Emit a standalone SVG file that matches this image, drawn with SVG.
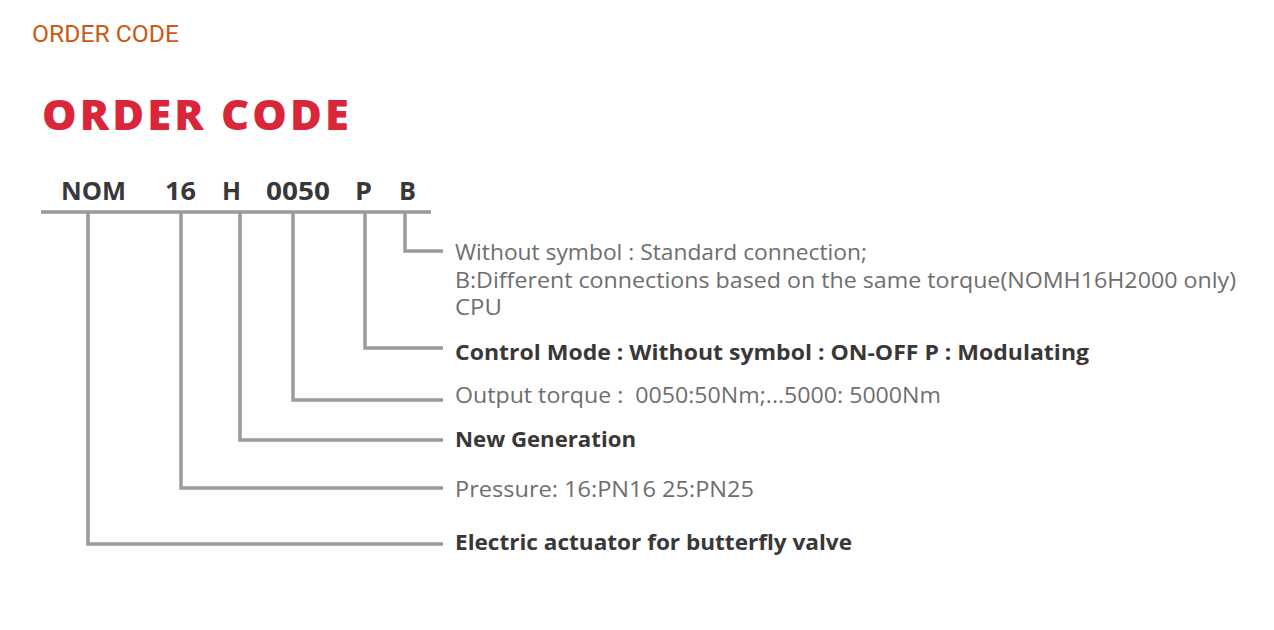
<svg xmlns="http://www.w3.org/2000/svg" width="1274" height="630" viewBox="0 0 1274 630">
<style>
.t{font-family:"Open Sans","Liberation Sans",sans-serif;font-size:21px;fill:#6e6e6e}
.b{font-family:"Open Sans","Liberation Sans",sans-serif;font-size:21px;font-weight:bold;fill:#383838}
.c{font-family:"Open Sans","Liberation Sans",sans-serif;font-size:25px;font-weight:bold;fill:#383838}
.ln{fill:none;stroke:#9a9a9a;stroke-width:3.5;stroke-linejoin:miter}
</style>
<rect x="0" y="0" width="1274" height="630" fill="#ffffff"/>
<text x="32" y="42" font-family="Roboto,'Liberation Sans',sans-serif" font-size="24" fill="#cc5a14" textLength="147" lengthAdjust="spacingAndGlyphs">ORDER CODE</text>
<g id="title"><text x="42" y="130" font-family="'Open Sans','Liberation Sans',sans-serif" font-size="42" font-weight="800" letter-spacing="3" fill="#d92638" textLength="310" lengthAdjust="spacingAndGlyphs">ORDER CODE</text></g>
<g id="code">
<text class="c" x="61" y="200" textLength="65" lengthAdjust="spacingAndGlyphs">NOM</text>
<text class="c" x="165" y="200" textLength="31" lengthAdjust="spacingAndGlyphs">16</text>
<text class="c" x="222" y="200" textLength="19" lengthAdjust="spacingAndGlyphs">H</text>
<text class="c" x="266" y="200" textLength="64" lengthAdjust="spacingAndGlyphs">0050</text>
<text class="c" x="355" y="200" textLength="17" lengthAdjust="spacingAndGlyphs">P</text>
<text class="c" x="399" y="200" textLength="17" lengthAdjust="spacingAndGlyphs">B</text>
</g>
<g id="connectors">
<line class="ln" x1="41" y1="212" x2="431" y2="212" stroke-width="4"/>
<polyline class="ln" points="405,212 405,251 443,251"/>
<polyline class="ln" points="365,212 365,348 443,348"/>
<polyline class="ln" points="293,212 293,400 443,400"/>
<polyline class="ln" points="240,212 240,440 443,440"/>
<polyline class="ln" points="181,212 181,488 443,488"/>
<polyline class="ln" points="88,212 88,544 443,544"/>
</g>
<g id="node-b">
<text class="t" x="455" y="260" textLength="412" lengthAdjust="spacingAndGlyphs">Without symbol : Standard connection;</text>
<text class="t" x="455" y="288" textLength="781" lengthAdjust="spacingAndGlyphs">B:Different connections based on the same torque(NOMH16H2000 only)</text>
<text class="t" x="455" y="315" textLength="47" lengthAdjust="spacingAndGlyphs">CPU</text>
</g>
<g id="node-p"><text class="b" x="455" y="360" textLength="634" lengthAdjust="spacingAndGlyphs">Control Mode : Without symbol : ON-OFF P : Modulating</text></g>
<g id="node-0050"><text class="t" x="455" y="403" textLength="486" lengthAdjust="spacingAndGlyphs" xml:space="preserve">Output torque :  0050:50Nm;...5000: 5000Nm</text></g>
<g id="node-h"><text class="b" x="455" y="447" textLength="181" lengthAdjust="spacingAndGlyphs">New Generation</text></g>
<g id="node-16"><text class="t" x="455" y="497" textLength="299" lengthAdjust="spacingAndGlyphs">Pressure: 16:PN16 25:PN25</text></g>
<g id="node-nom"><text class="b" x="455" y="550" textLength="397" lengthAdjust="spacingAndGlyphs">Electric actuator for butterfly valve</text></g>
</svg>
